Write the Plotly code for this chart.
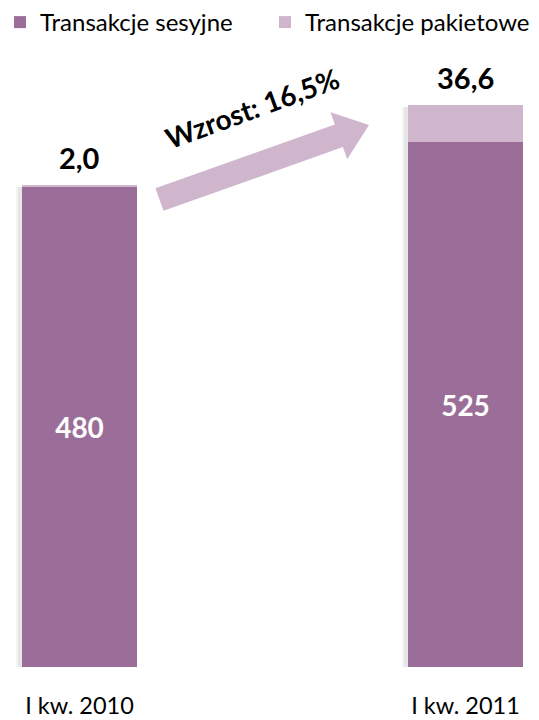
import plotly.graph_objects as go
import math

categories = ["I kw. 2010", "I kw. 2011"]
sesyjne = [480, 525]
pakietowe = [2.0, 36.6]
growth_label = "Wzrost: 16,5%"

col_ses = "#9B6E99"
col_pak = "#CFB6CD"
FONT = "Lato"

W, H = 539, 720
mt, mb = 60, 53
plot_h = H - mt - mb
x0px, x1px = 79.5, 465.5
scale = x1px - x0px
xr = [-x0px / scale, (W - x0px) / scale]
xs = [0, 1]
bw = 115 / scale

fig = go.Figure()
# soft shadow behind bars
totals = [s + p for s, p in zip(sesyjne, pakietowe)]
for off, alpha in [(0.016, 0.04), (0.010, 0.06)]:
    fig.add_trace(go.Bar(x=[x - off for x in xs], y=[t + 1 for t in totals],
                         width=bw, marker=dict(color=f"rgba(0,0,0,{alpha})", line=dict(width=0)),
                         showlegend=False, hoverinfo="skip", base=-3))
fig.add_trace(go.Bar(x=xs, y=sesyjne, name="Transakcje sesyjne", width=bw,
                     marker=dict(color=col_ses, line=dict(width=0)),
                     text=[f"<b>{v:d}</b>" for v in sesyjne], textposition="inside",
                     insidetextanchor="middle", legend="legend",
                     textfont=dict(color="white", size=28, family=FONT)))
fig.add_trace(go.Bar(x=xs, y=pakietowe, name="Transakcje pakietowe", width=bw,
                     marker=dict(color=col_pak, line=dict(width=0)),
                     textposition="none", legend="legend2"))

for x, s, p in zip(xs, sesyjne, pakietowe):
    fig.add_annotation(x=x, y=s + p, text="<b>" + f"{p:.1f}".replace(".", ",") + "</b>",
                       showarrow=False, yanchor="bottom", yshift=8,
                       font=dict(size=29, color="black", family=FONT))

# growth arrow (decorative), defined in pixel geometry and converted to data coords
def to_data(px, py):
    return (px - x0px) / scale, (H - mb) - py

tail = (159.5, 199.5)
tip = (369.0, 125.0)
dx, dy = tip[0] - tail[0], tip[1] - tail[1]
L = math.hypot(dx, dy)
u = (dx / L, dy / L)
n = (-u[1], u[0])
sw, hw, hl = 12, 25, 32
def pt(a, b):
    return (tail[0] + u[0] * a + n[0] * b, tail[1] + u[1] * a + n[1] * b)
poly = [pt(0, -sw), pt(L - hl, -sw), pt(L - hl, -hw), pt(L, 0), pt(L - hl, hw), pt(L - hl, sw), pt(0, sw)]
path = "M " + " L ".join(f"{to_data(*p)[0]:.4f},{to_data(*p)[1]:.2f}" for p in poly) + " Z"
fig.add_shape(type="path", path=path, xref="x", yref="y", fillcolor=col_pak,
              line=dict(width=0), layer="below")
tx, ty = to_data(252, 108)
fig.add_annotation(x=tx, y=ty, text="<b>" + growth_label + "</b>", showarrow=False,
                   textangle=-20, font=dict(size=28, color="black", family=FONT))

leg_common = dict(orientation="h", y=1.0, yanchor="top", xanchor="left",
                  yref="container", font=dict(size=24), itemsizing="constant",
                  bgcolor="rgba(0,0,0,0)")
fig.update_layout(
    width=W, height=H, barmode="stack", bargap=0,
    margin=dict(l=0, r=0, t=mt, b=mb),
    plot_bgcolor="white", paper_bgcolor="white",
    font=dict(family=FONT, size=24, color="black"),
    legend=dict(x=0.0, **leg_common),
    legend2=dict(x=(282 - 17) / W, **leg_common),
    showlegend=True,
    xaxis=dict(range=xr, tickvals=xs, ticktext=categories, showgrid=False,
               zeroline=False, showline=False, ticks="", ticklabelstandoff=22,
               tickfont=dict(size=23.5)),
    yaxis=dict(range=[0, plot_h], visible=False, showgrid=False, zeroline=False),
)
fig.write_html("out.html")
